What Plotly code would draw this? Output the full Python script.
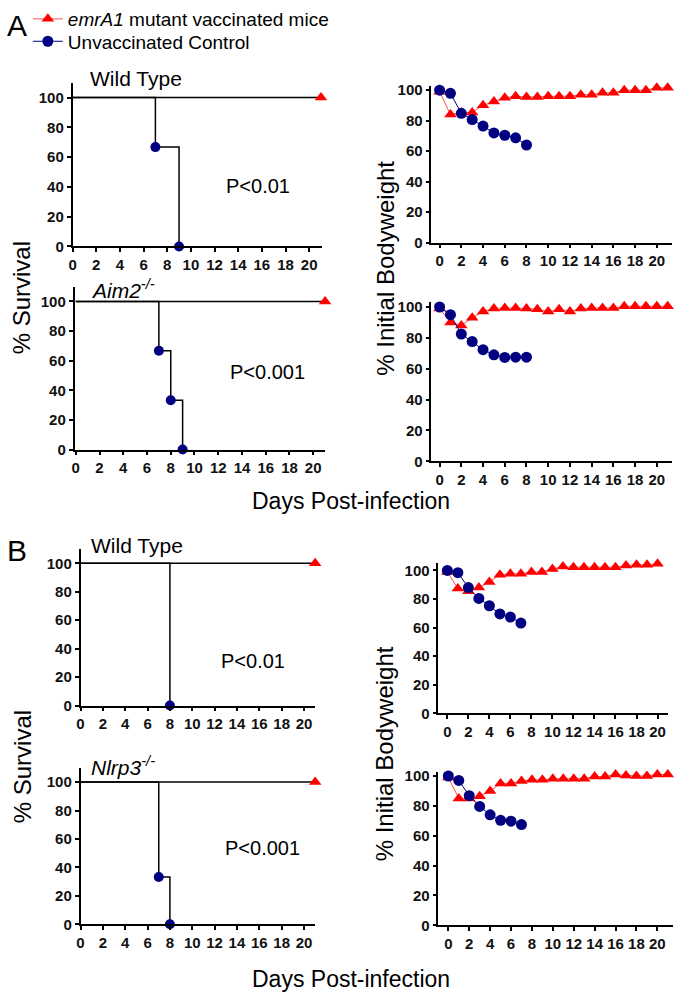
import plotly.graph_objects as go

W, H = 675, 1000

# ---- data ----
days = list(range(0, 22))

# survival (Kaplan-Meier steps) for unvaccinated controls
surv_a_wt_x = [0, 7, 9]
surv_a_wt_y = [100, 66.7, 0]
surv_a_aim2_x = [0, 7, 8, 9]
surv_a_aim2_y = [100, 66.7, 33.3, 0]
surv_b_wt_x = [0, 8]
surv_b_wt_y = [100, 0]
surv_b_nlrp3_x = [0, 7, 8]
surv_b_nlrp3_y = [100, 33.3, 0]
vacc_surv_x = [0, 21]
vacc_surv_y = [100, 100]

# bodyweight (% initial)
bw_a_wt_ctrl = [100, 97.9, 84.8, 80.7, 76.4, 71.9, 70.4, 68.7, 64]
bw_a_wt_vacc = [99, 84, 85.4, 85.4, 90, 92.5, 95, 96, 95.5, 95.5, 96, 96,
                96, 97, 97, 98.3, 98.3, 100, 100, 100, 101.5, 101.5]
bw_a_aim2_ctrl = [100, 95, 82.5, 77.6, 72.3, 69, 67.3, 67.5, 67.5]
bw_a_aim2_vacc = [99, 90, 88, 93, 97, 99, 99.4, 99.4, 99, 98.5, 97, 98.5,
                  97, 99, 99.4, 99.4, 99.4, 100.4, 100.4, 100.4, 100.4, 100.4]
bw_b_wt_ctrl = [100, 98.4, 88, 80.4, 75.3, 69.6, 67.4, 63.2]
bw_b_wt_vacc = [99, 87.4, 85.4, 88, 92, 97, 97.7, 97.7, 98.9, 98.9, 101,
                102.7, 102.3, 102.3, 102.3, 102.3, 102.3, 103.4, 104, 104, 104.6]
bw_b_nlrp3_ctrl = [100, 97, 86.8, 79.6, 74, 70.3, 69.7, 67.5]
bw_b_nlrp3_vacc = [99, 85, 85, 86.4, 90, 95, 95, 96.7, 97.4, 97.4, 98.2, 98.2,
                   98.2, 98.2, 99.6, 99.6, 101, 100.4, 100, 100, 101, 101]

x_ticks = list(range(0, 21, 2))
y_ticks = [0, 20, 40, 60, 80, 100]

RED = "#ff0000"
NAVY = "#000080"
FONT = "Liberation Sans, Arial, sans-serif"


def px(x):
    return x / W


def py(y):
    return 1 - y / H


fig = go.Figure()

# panel geometry in pixels: left, right, top, bottom, xrange, yrange
panels = [
    (69, 319.5, 73, 240, [0, 21.05], [0, 110]),      # A survival WT
    (71, 323, 281, 447, [-0.1, 21], [0, 110]),       # A survival Aim2
    (430, 672, 76, 236, [-0.75, 21.4], [0, 103]),    # A bw WT
    (430, 672, 297, 459, [-0.75, 21.4], [0, 103]),   # A bw Aim2
    (77, 313, 548.5, 708, [0, 21], [0, 110]),        # B survival WT
    (77, 313, 771.5, 931, [0, 21], [0, 110]),        # B survival Nlrp3
    (437, 668, 563, 716, [-0.85, 21], [0, 105]),     # B bw WT
    (437, 673, 776, 932, [-0.95, 21.5], [0, 102.5]), # B bw Nlrp3
]

layout_axes = {}
for i, (l, r, t, b, xr, yr) in enumerate(panels, start=1):
    sfx = "" if i == 1 else str(i)
    common = dict(showgrid=False, zeroline=False, showline=True, linecolor="black",
                  linewidth=1.6, ticks="outside", ticklen=4, tickwidth=1.5,
                  tickcolor="black",
                  tickfont=dict(family=FONT, size=15, color="#111", weight="bold"))
    layout_axes["xaxis" + sfx] = dict(domain=[px(l), px(r)], range=xr,
                                      anchor="y" + sfx, tickvals=x_ticks, **common)
    layout_axes["yaxis" + sfx] = dict(domain=[py(b), py(t)], range=yr,
                                      anchor="x" + sfx, tickvals=y_ticks, **common)


def survival(k, xs, ys):
    xa, ya = ("x", "y") if k == 1 else ("x%d" % k, "y%d" % k)
    fig.add_trace(go.Scatter(x=vacc_surv_x, y=vacc_surv_y, mode="lines",
                             line=dict(color="black", width=1.5), xaxis=xa, yaxis=ya,
                             showlegend=False, cliponaxis=False))
    fig.add_trace(go.Scatter(x=xs, y=ys, mode="lines", line_shape="hv",
                             line=dict(color="black", width=1.5), xaxis=xa, yaxis=ya,
                             showlegend=False, cliponaxis=False))
    fig.add_trace(go.Scatter(x=xs[1:], y=ys[1:], mode="markers",
                             marker=dict(color=NAVY, size=10, symbol="circle"),
                             xaxis=xa, yaxis=ya, showlegend=False, cliponaxis=False))
    fig.add_trace(go.Scatter(x=vacc_surv_x[-1:], y=vacc_surv_y[-1:], mode="markers",
                             marker=dict(color=RED, size=11, symbol="triangle-up"),
                             xaxis=xa, yaxis=ya, showlegend=False, cliponaxis=False))


def bodyweight(k, ctrl, vacc, legend=False):
    xa, ya = "x%d" % k, "y%d" % k
    fig.add_trace(go.Scatter(x=days[:len(vacc)], y=vacc, mode="lines+markers",
                             name="<i>emrA1</i> mutant vaccinated mice",
                             line=dict(color="#ff5050", width=1),
                             marker=dict(color=RED, size=11, symbol="triangle-up"),
                             xaxis=xa, yaxis=ya, showlegend=legend, legend="legend",
                             cliponaxis=False))
    fig.add_trace(go.Scatter(x=days[:len(ctrl)], y=ctrl, mode="lines+markers",
                             name="Unvaccinated Control",
                             line=dict(color=NAVY, width=1),
                             marker=dict(color=NAVY, size=11, symbol="circle"),
                             xaxis=xa, yaxis=ya, showlegend=legend, legend="legend2",
                             cliponaxis=False))


survival(1, surv_a_wt_x, surv_a_wt_y)
survival(2, surv_a_aim2_x, surv_a_aim2_y)
bodyweight(3, bw_a_wt_ctrl, bw_a_wt_vacc, legend=True)
bodyweight(4, bw_a_aim2_ctrl, bw_a_aim2_vacc)
survival(5, surv_b_wt_x, surv_b_wt_y)
survival(6, surv_b_nlrp3_x, surv_b_nlrp3_y)
bodyweight(7, bw_b_wt_ctrl, bw_b_wt_vacc)
bodyweight(8, bw_b_nlrp3_ctrl, bw_b_nlrp3_vacc)


def txt(x, y, s, size=17, xanchor="left", angle=0, weight="normal"):
    return dict(x=px(x), y=py(y), xref="paper", yref="paper", text=s, showarrow=False,
                xanchor=xanchor, yanchor="middle", textangle=angle,
                font=dict(family=FONT, size=size, color="black", weight=weight))


annotations = [
    txt(1, 15, "A", size=30),
    txt(1, 550, "B", size=30),
    txt(84, 69, "Wild Type", size=21),
    txt(86, 283, "<i>Aim2<sup>-/-</sup></i>", size=21),
    txt(86, 545, "Wild Type", size=21),
    txt(86, 770, "<i>Nlrp3<sup>-/-</sup></i>", size=21),
    txt(221, 178, "P<0.01", size=20),
    txt(225, 368, "P<0.001", size=20),
    txt(216, 663, "P<0.01", size=20),
    txt(220, 853, "P<0.001", size=20),
    txt(18, 292, "% Survival", size=24, xanchor="center", angle=-90),
    txt(383, 262, "% Initial Bodyweight", size=24, xanchor="center", angle=-90),
    txt(18, 770, "% Survival", size=24, xanchor="center", angle=-90),
    txt(383, 757, "% Initial Bodyweight", size=24, xanchor="center", angle=-90),
    txt(349, 499, "Days Post-infection", size=23, xanchor="center"),
    txt(349, 987, "Days Post-infection", size=23, xanchor="center"),
]

leg = dict(xanchor="left", yanchor="middle", bgcolor="rgba(0,0,0,0)", itemwidth=30,
           font=dict(family=FONT, size=19, color="black"))

fig.update_layout(
    width=W, height=H,
    margin=dict(l=0, r=0, t=0, b=0),
    paper_bgcolor="white", plot_bgcolor="white",
    showlegend=True,
    legend=dict(x=px(24), y=py(8), **leg),
    legend2=dict(x=px(24), y=py(31), **leg),
    annotations=annotations,
    **layout_axes,
)

fig.write_html("out.html", config={"displayModeBar": False},
               post_script="document.body.style.margin='0px';")
